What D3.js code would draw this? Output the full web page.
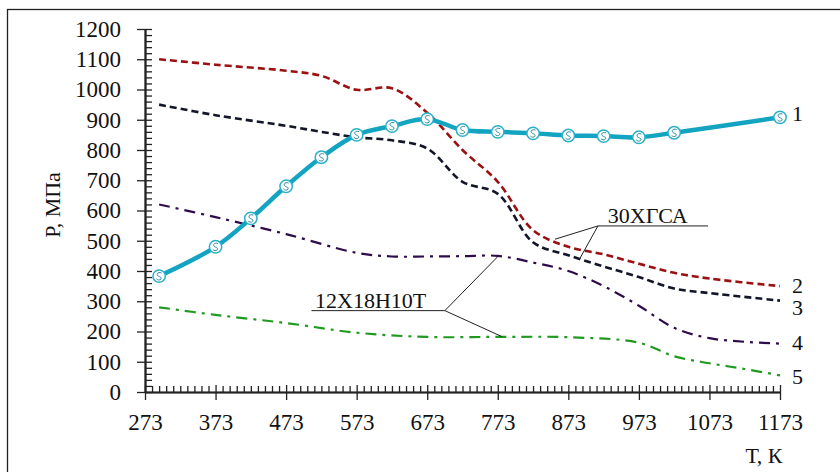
<!DOCTYPE html>
<html>
<head>
<meta charset="utf-8">
<script src="https://cdn.jsdelivr.net/npm/d3@7/dist/d3.min.js"></script>
<style>
  html, body { margin: 0; padding: 0; background: #fff; }
  svg { display: block; }
</style>
</head>
<body>
<svg id="chart" width="840" height="472"></svg>
<script>
// Temperature ticks (K) and stress ticks (MPa)
const xTicks = [273, 373, 473, 573, 673, 773, 873, 973, 1073, 1173];
const yTicks = [0, 100, 200, 300, 400, 500, 600, 700, 800, 900, 1000, 1100, 1200];

// Curve 1 (measured, with markers)
const t1 = [293, 373, 423, 473, 523, 573, 623, 673, 723, 773, 823, 873, 923, 973, 1023, 1173];
const p1 = [383, 480, 574, 680, 776, 850, 879, 902, 866, 860, 855, 848, 846, 842, 857, 908];

// Curve 2 (30ХГСА, upper)
const t2 = [293, 373, 473, 523, 573, 623, 673, 723, 773, 823, 873, 923, 973, 1023, 1073, 1173];
const p2 = [1100, 1082, 1062, 1045, 999, 1004, 923, 800, 695, 535, 480, 455, 424, 394, 375, 350];

// Curve 3 (30ХГСА, lower)
const t3 = [293, 373, 473, 523, 573, 623, 673, 723, 773, 823, 873, 923, 973, 1023, 1073, 1173];
const p3 = [950, 915, 880, 860, 842, 832, 805, 695, 655, 495, 452, 415, 380, 342, 327, 302];

// Curve 4 (12Х18Н10Т, upper)
const t4 = [293, 373, 473, 573, 623, 673, 723, 773, 823, 873, 923, 973, 1023, 1073, 1123, 1173];
const p4 = [620, 578, 522, 460, 448, 448, 449, 450, 428, 400, 350, 285, 212, 178, 166, 160];

// Curve 5 (12Х18Н10Т, lower)
const t5 = [293, 373, 473, 573, 673, 773, 873, 973, 1023, 1073, 1123, 1173];
const p5 = [280, 255, 228, 196, 182, 182, 181, 163, 118, 95, 76, 55];

const curveLabels = ["1", "2", "3", "4", "5"];

const FONT = "'Liberation Serif', 'Times New Roman', serif";
const svg = d3.select("#chart");

// Outer frame
svg.append("rect")
  .attr("x", 7.5).attr("y", 9.5)
  .attr("width", 860).attr("height", 500)
  .attr("fill", "none").attr("stroke", "#222").attr("stroke-width", 1.3);

const x = d3.scaleLinear().domain([273, 1173]).range([145, 780]);
const y = d3.scaleLinear().domain([0, 1200]).range([392, 29]);

const minorX = d3.range(283, 1173, 10).filter(v => (v - 273) % 100 !== 0);
const minorY = d3.range(20, 1200, 20).filter(v => v % 100 !== 0);
const fmt = d3.format("d");

// X axis: major ticks crossing the line, minor ticks inside
const gx = svg.append("g").attr("transform", `translate(0,${y(0)})`);
gx.call(d3.axisBottom(x).tickValues(xTicks).tickFormat(fmt).tickSize(8).tickSizeOuter(0).tickPadding(14));
gx.append("g").call(d3.axisTop(x).tickValues(minorX).tickSize(6).tickFormat("").tickSizeOuter(0));
gx.append("g").call(d3.axisTop(x).tickValues(xTicks).tickSize(7).tickFormat("").tickSizeOuter(0));

// Y axis
const gy = svg.append("g").attr("transform", `translate(${x(273)},0)`);
gy.call(d3.axisLeft(y).tickValues(yTicks).tickFormat(fmt).tickSize(8).tickSizeOuter(0).tickPadding(16));
gy.append("g").call(d3.axisRight(y).tickValues(minorY).tickSize(7).tickFormat("").tickSizeOuter(0));
gy.append("g").call(d3.axisRight(y).tickValues(yTicks).tickSize(7).tickFormat("").tickSizeOuter(0));

svg.selectAll(".domain").attr("stroke", "#222").attr("stroke-width", 1.6);
svg.selectAll(".tick line").attr("stroke", "#222").attr("stroke-width", 1.3);
svg.selectAll(".tick text")
  .style("font-family", FONT).style("font-size", "23px").attr("fill", "#111");

// Axis titles
svg.append("text")
  .attr("transform", `translate(60,205) rotate(-90)`)
  .attr("text-anchor", "middle")
  .style("font-family", FONT).style("font-size", "22px").attr("fill", "#111")
  .text("Р, МПа");
svg.append("text")
  .attr("x", 764).attr("y", 463)
  .attr("text-anchor", "middle")
  .style("font-family", FONT).style("font-size", "22px").attr("fill", "#111")
  .text("Т, К");

const line = d3.line().x(d => x(d[0])).y(d => y(d[1])).curve(d3.curveCatmullRom.alpha(0.5));
const zip = (ts, ps) => ts.map((t, i) => [t, ps[i]]);

const series = [
  { pts: zip(t2, p2), color: "#9b1111", width: 2.6, dash: "7,4" },
  { pts: zip(t3, p3), color: "#121628", width: 2.6, dash: "7,4" },
  { pts: zip(t4, p4), color: "#2e0c4a", width: 2.2, dash: "11,6,3,6" },
  { pts: zip(t5, p5), color: "#1f9a1f", width: 2.2, dash: "11,6,3,6" }
];

series.forEach(s => {
  svg.append("path")
    .attr("d", line(s.pts))
    .attr("fill", "none")
    .attr("stroke", s.color)
    .attr("stroke-width", s.width)
    .attr("stroke-dasharray", s.dash);
});

// Curve 1 with markers
const d1 = zip(t1, p1);
svg.append("path")
  .attr("d", line(d1))
  .attr("fill", "none")
  .attr("stroke", "#13a4c1")
  .attr("stroke-width", 4.5);

const mk = svg.append("g").selectAll("g").data(d1).join("g")
  .attr("transform", d => `translate(${x(d[0])},${y(d[1])})`);
mk.append("circle").attr("r", 6.2).attr("fill", "#fff").attr("stroke", "#2bb0c9").attr("stroke-width", 1.5);
mk.append("path")
  .attr("d", "M2.5,-3.2 C0,-4.5 -3,-2.8 -1.5,-0.6 C0,1 3,0.6 1.8,3 C0.6,4.4 -1.8,3.8 -2.6,2.6")
  .attr("fill", "none").attr("stroke", "#2a8aa2").attr("stroke-width", 1);

// End labels, offset from the last point of each curve
const ends = [d1, ...series.map(s => s.pts)];
const labelShift = [4, 7, 14, 6, 9];
svg.append("g").selectAll("text").data(ends).join("text")
  .attr("x", 792)
  .attr("y", (d, i) => y(d[d.length - 1][1]) + labelShift[i])
  .style("font-family", FONT).style("font-size", "22px").attr("fill", "#111")
  .text((d, i) => curveLabels[i]);

// Callout: 30ХГСА
const ann = svg.append("g").attr("stroke", "#222").attr("stroke-width", 1).attr("fill", "none");
const elbowA = [915, 549];
ann.append("line").attr("x1", x(elbowA[0])).attr("y1", y(elbowA[1])).attr("x2", x(1071)).attr("y2", y(elbowA[1]));
ann.append("line").attr("x1", x(elbowA[0])).attr("y1", y(elbowA[1])).attr("x2", x(854)).attr("y2", y(505));
ann.append("line").attr("x1", x(elbowA[0])).attr("y1", y(elbowA[1])).attr("x2", x(889)).attr("y2", y(440));
svg.append("text").attr("x", x(929)).attr("y", y(549) - 3)
  .style("font-family", FONT).style("font-size", "22px").attr("fill", "#111")
  .text("30ХГСА");

// Callout: 12Х18Н10Т
const elbowB = [698, 269];
ann.append("line").attr("x1", x(509)).attr("y1", y(elbowB[1])).attr("x2", x(elbowB[0])).attr("y2", y(elbowB[1]));
ann.append("line").attr("x1", x(elbowB[0])).attr("y1", y(elbowB[1])).attr("x2", x(774)).attr("y2", y(450));
ann.append("line").attr("x1", x(elbowB[0])).attr("y1", y(elbowB[1])).attr("x2", x(779)).attr("y2", y(183));
svg.append("text").attr("x", x(514)).attr("y", y(269) - 3)
  .style("font-family", FONT).style("font-size", "22px").attr("fill", "#111")
  .text("12Х18Н10Т");
</script>
</body>
</html>
